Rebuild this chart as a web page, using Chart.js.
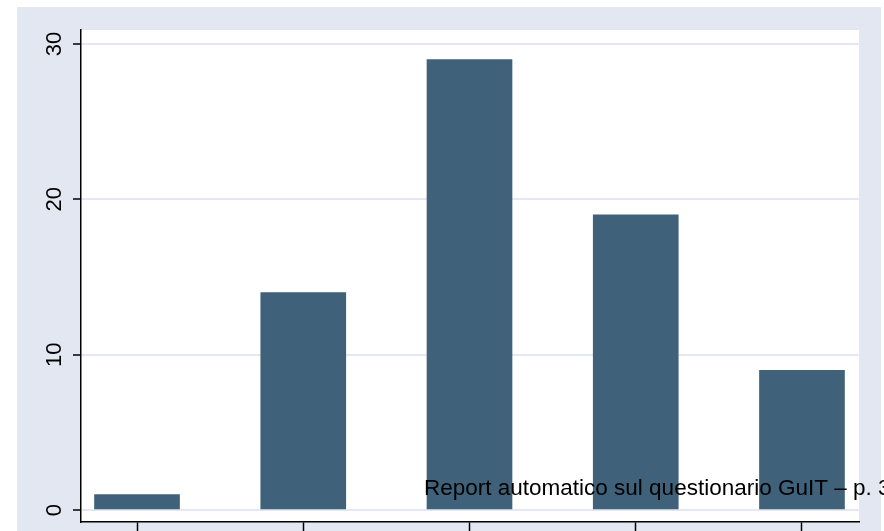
<!DOCTYPE html>
<html>
<head>
<meta charset="utf-8">
<script src="https://cdn.jsdelivr.net/npm/chart.js@4"></script>
<style>
  html, body { margin: 0; padding: 0; background: #fff; }
  #wrap { width: 884px; height: 531px; position: relative; }
</style>
</head>
<body>
<div id="wrap"><canvas id="barChart"></canvas></div>
<script>
// categories on the x axis (positions 1..5) and bar heights
const categories = [1, 2, 3, 4, 5];
const values = [1, 14, 29, 19, 9];
const yTickLabels = [0, 10, 20, 30];
const footerText = 'Report automatico sul questionario GuIT \u2013 p. 3';

const bgColor = '#e2e7f1';
const barColor = '#3f6179';

// stata-like backgrounds, rotated y labels and the overlay text
const stataLook = {
    id: 'stataLook',
    beforeDraw(chart) {
        const ctx = chart.ctx;
        const a = chart.chartArea;
        ctx.save();
        ctx.fillStyle = '#ffffff';
        ctx.fillRect(0, 0, chart.width, chart.height);
        ctx.fillStyle = bgColor;
        ctx.fillRect(17, 7, 864, chart.height - 7);
        ctx.fillStyle = '#ffffff';
        ctx.fillRect(a.left, a.top, a.right - a.left, a.bottom - a.top);
        ctx.restore();
    },
    afterDraw(chart) {
        const ctx = chart.ctx;
        const y = chart.scales.y;
        ctx.save();
        ctx.fillStyle = '#000';
        ctx.font = '22px "Liberation Sans", Arial, sans-serif';
        ctx.textAlign = 'center';
        ctx.textBaseline = 'middle';
        yTickLabels.forEach(v => {
            ctx.save();
            ctx.translate(55, y.getPixelForValue(v));
            ctx.rotate(-Math.PI / 2);
            ctx.fillText(String(v), 0, 0);
            ctx.restore();
        });
        ctx.font = '22.5px "Liberation Sans", Arial, sans-serif';
        ctx.textAlign = 'left';
        ctx.textBaseline = 'alphabetic';
        ctx.fillText(footerText, 424, 495);
        ctx.restore();
    }
};

const ctx = document.getElementById('barChart').getContext('2d');
window.myChart = new Chart(ctx, {
    type: 'bar',
    data: {
        datasets: [{
            data: categories.map((c, i) => ({ x: c, y: values[i] })),
            backgroundColor: barColor,
            borderWidth: 0,
            barThickness: 85
        }]
    },
    options: {
        responsive: true,
        maintainAspectRatio: false,
        animation: false,
        layout: { padding: { top: 30, right: 25, left: 0, bottom: 0 } },
        plugins: {
            legend: { display: false },
            tooltip: { enabled: false }
        },
        scales: {
            x: {
                type: 'linear',
                min: 0.663,
                max: 5.343,
                offset: false,
                afterFit: s => { s.height = 9; },
                ticks: { display: false, stepSize: 1, includeBounds: false },
                grid: {
                    offset: false,
                    drawOnChartArea: false,
                    drawTicks: true,
                    tickLength: 10,
                    tickColor: '#000',
                    tickWidth: 1.5
                },
                border: { display: true, color: '#000', width: 1.5 }
            },
            y: {
                min: -0.77,
                max: 30.9,
                afterFit: s => { s.width = 81; },
                ticks: { display: false, stepSize: 10, includeBounds: false },
                grid: {
                    color: '#e3e8f3',
                    lineWidth: 2,
                    drawTicks: true,
                    tickLength: 8,
                    tickColor: '#000',
                    tickWidth: 1.5
                },
                border: { display: true, color: '#000', width: 1.5 }
            }
        }
    },
    plugins: [stataLook]
});
</script>
</body>
</html>
